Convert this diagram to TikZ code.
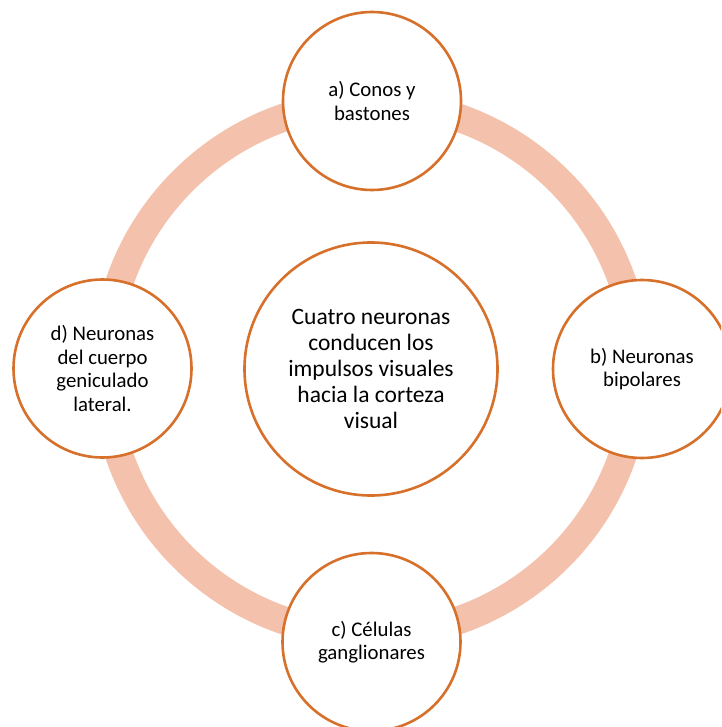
\documentclass[tikz,border=0pt]{standalone}
\usepackage{fontspec}
\setmainfont{Carlito}
\definecolor{ringfill}{RGB}{244,193,172}
\definecolor{rimorange}{RGB}{214,112,42}
\tikzset{
  stage/.style={circle, draw=rimorange, line width=2.6pt, fill=white,
    minimum size=178pt, inner sep=0pt, align=center,
    font=\fontsize{20.8}{23.5}\selectfont},
  hub/.style={stage, minimum size=253pt, font=\fontsize{23.5}{25.8}\selectfont},
  ringband/.style={draw=ringfill, line width=28pt}
}
\begin{document}
\begin{tikzpicture}[x=1pt, y=-1pt]
  \useasboundingbox (0,0) rectangle (721,727);
  \clip (0,0) rectangle (721,727);
  \fill[white] (0,0) rectangle (721,727);
  % central statement
  \coordinate (hubpos) at (371,369);
  \draw[ringband] (hubpos) circle (266);
  \node[hub] (center) at (hubpos) {Cuatro neuronas\\conducen los\\impulsos visuales\\hacia la corteza\\visual};
  % the four stages around the ring
  \node[stage] (a) at (372,101) {a) Conos y\\bastones};
  \node[stage] (b) at (642,369) {b) Neuronas\\bipolares};
  \node[stage] (c) at (371.5,642) {c) Células\\ganglionares};
  \node[stage] (d) at (102.5,368.5) {d) Neuronas\\del cuerpo\\geniculado\\lateral.};
\end{tikzpicture}
\end{document}
